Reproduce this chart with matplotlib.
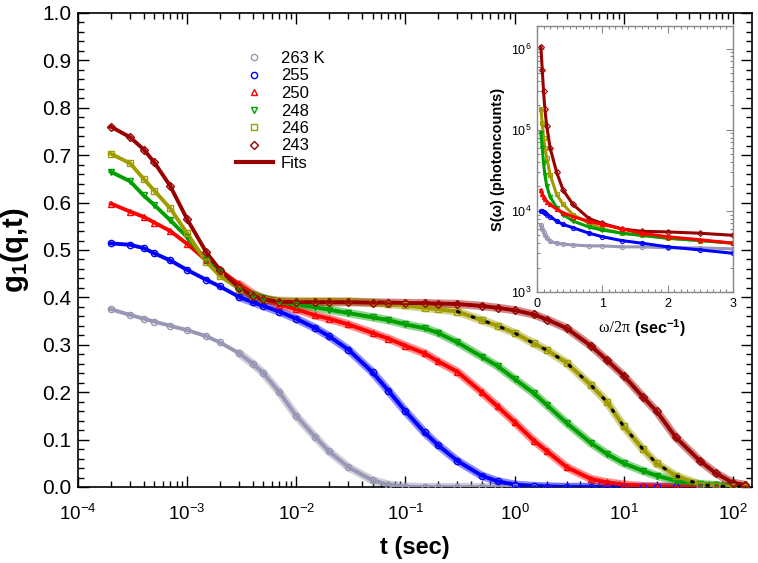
import numpy as np
import matplotlib
matplotlib.use('Agg')
import matplotlib.pyplot as plt
from matplotlib.ticker import (LogLocator, MultipleLocator, NullFormatter, FormatStrFormatter,
                               FixedLocator, LogFormatterSciNotation)
from matplotlib.lines import Line2D

plt.rcParams['font.family'] = ['Liberation Sans', 'DejaVu Sans']
plt.rcParams['mathtext.fontset'] = 'custom'
plt.rcParams['mathtext.rm'] = 'Liberation Sans'
plt.rcParams['mathtext.bf'] = 'Liberation Sans:bold'
plt.rcParams['mathtext.it'] = 'Liberation Sans:italic'

# ---------------- main panel data ----------------
t = [2e-4, 3e-4, 4e-4, 5e-4, 7e-4, 1e-3, 1.5e-3, 2e-3, 3e-3, 4e-3, 5e-3, 7e-3,
     1e-2, 1.5e-2, 2e-2, 3e-2, 5e-2, 7e-2, 0.1, 0.15, 0.2, 0.3, 0.5, 0.7,
     1, 1.5, 2, 3, 5, 7, 10, 15, 20, 30, 50, 70, 100, 130]

g_263 = [.375, .363, .355, .349, .340, .331, .318, .305, .282, .260, .240, .200,
         .150, .105, .075, .042, .014, .005, .001, 0, 0, 0, 0, 0,
         0, 0, 0, 0, 0, 0, 0, 0, 0, 0, 0, 0, 0, 0]
g_255 = [.514, .511, .504, .493, .478, .458, .437, .423, .401, .390, .382, .370,
         .355, .335, .318, .290, .242, .203, .160, .115, .088, .055, .024, .012,
         .005, .002, .001, 0, 0, 0, 0, 0, 0, 0, 0, 0, 0, 0]
g_250 = [.598, .581, .570, .558, .540, .513, .478, .458, .428, .408, .398, .385,
         .375, .362, .355, .343, .325, .313, .298, .282, .265, .243, .200, .170,
         .137, .098, .075, .042, .017, .010, .005, .002, .001, 0, 0, 0, 0, 0]
g_248 = [.665, .645, .615, .595, .563, .527, .478, .455, .420, .405, .398, .390,
         .385, .379, .374, .367, .358, .352, .343, .335, .325, .305, .275, .255,
         .228, .198, .172, .135, .093, .070, .050, .034, .024, .013, .006, .004, .001, 0]
g_246 = [.703, .683, .650, .625, .588, .535, .475, .445, .418, .404, .397, .393,
         .392, .392, .392, .392, .389, .386, .383, .378, .375, .370, .352, .340,
         .325, .303, .288, .262, .215, .180, .128, .080, .050, .024, .005, .002, 0, 0]
g_243 = [.760, .738, .712, .685, .635, .565, .495, .458, .420, .403, .396, .391,
         .390, .390, .390, .390, .389, .389, .388, .388, .387, .386, .382, .378,
         .373, .364, .353, .335, .298, .268, .235, .190, .160, .105, .055, .029, .009, .004]

series_g = [g_263, g_255, g_250, g_248, g_246, g_243]
labels = ['263 K', '255', '250', '248', '246', '243']
colors = ['#9898b4', '#0000ff', '#ff0000', '#00a000', '#a09c00', '#990000']
markers = ['o', 'o', '^', 'v', 's', 'D']
x_major = [1e-4, 1e-3, 1e-2, 1e-1, 1e0, 1e1, 1e2]

# ---------------- inset data ----------------
f_in = [0.06, 0.08, 0.1, 0.12, 0.15, 0.2, 0.3, 0.4, 0.55, 0.8, 1.0, 1.3, 1.6, 2.0, 2.5, 3.0]
S_263 = [6.7e3, 6.0e3, 5.5e3, 5.0e3, 4.6e3, 4.2e3, 4.0e3, 3.9e3, 3.8e3, 3.7e3, 3.7e3, 3.6e3, 3.6e3, 3.5e3, 3.5e3, 3.4e3]
S_255 = [1.0e4, 1.0e4, 9.8e3, 9.5e3, 9.0e3, 8.5e3, 7.5e3, 6.8e3, 6.2e3, 5.3e3, 4.8e3, 4.3e3, 4.0e3, 3.6e3, 3.3e3, 3.0e3]
S_250 = [1.8e4, 1.6e4, 1.5e4, 1.4e4, 1.3e4, 1.2e4, 1.05e4, 9.5e3, 8.5e3, 7.4e3, 6.8e3, 6.0e3, 5.3e3, 4.8e3, 4.4e3, 4.0e3]
S_248 = [9.0e4, 6.0e4, 3.9e4, 2.8e4, 2.0e4, 1.5e4, 1.1e4, 9.0e3, 7.5e3, 6.3e3, 5.8e3, 5.3e3, 5.0e3, 4.6e3, 4.3e3, 4.0e3]
S_246 = [1.8e5, 1.2e5, 8.0e4, 6.0e4, 4.5e4, 2.8e4, 1.6e4, 1.2e4, 9.0e3, 7.0e3, 6.0e3, 5.3e3, 5.0e3, 4.6e3, 4.3e3, 4.0e3]
S_243 = [1.05e6, 5.5e5, 3.0e5, 1.8e5, 1.1e5, 6.0e4, 3.0e4, 1.8e4, 1.2e4, 8.0e3, 7.0e3, 6.0e3, 5.6e3, 5.5e3, 5.3e3, 5.0e3]
series_S = [S_263, S_255, S_250, S_248, S_246, S_243]
y_in_major = [1e3, 1e4, 1e5, 1e6]

W, H = 758, 563
fig = plt.figure(figsize=(W / 100, H / 100), dpi=100)
ax = fig.add_axes([78 / W, (H - 487) / H, (752 - 78) / W, (487 - 13) / H])

t_arr = np.array(t)
dense = t_arr >= 3e-3
for g, c, m in zip(series_g, colors, markers):
    g = np.array(g)
    ax.plot(t_arr[dense], g[dense], color=c, lw=6, alpha=0.45, solid_capstyle='round', zorder=2)
    ax.plot(t_arr, g, color=c, lw=2.8, zorder=3)
    ax.plot(t_arr, g, ls='none', marker=m, ms=4.5, mfc='none', mec=c, mew=1, zorder=4)

# black dotted fit over the 246 K data
sel = t_arr >= 0.25
ax.plot(t_arr[sel], np.array(g_246)[sel], color='k', ls=(0, (0.6, 4.5)), lw=2.2,
        dash_capstyle='round', zorder=5)

ax.set_xscale('log')
ax.set_xlim(1e-4, 150)
ax.set_ylim(0, 1)
x_minor = [k * d for d in x_major for k in range(2, 10) if k * d <= 150]
ax.xaxis.set_major_locator(FixedLocator(x_major))
ax.xaxis.set_major_formatter(LogFormatterSciNotation())
ax.xaxis.set_minor_locator(FixedLocator(x_minor))
ax.xaxis.set_minor_formatter(NullFormatter())
ax.yaxis.set_major_locator(MultipleLocator(0.1))
ax.yaxis.set_minor_locator(MultipleLocator(0.02))
ax.yaxis.set_major_formatter(FormatStrFormatter('%.1f'))
ax.tick_params(which='both', direction='in', top=True, right=True, width=1)
ax.tick_params(which='major', length=8)
ax.tick_params(which='minor', length=4.5)
ax.tick_params(axis='x', labelsize=13.5, pad=12)
ax.tick_params(axis='y', labelsize=15, pad=5)
for s in ax.spines.values():
    s.set_linewidth(1.2)
ax.set_xlabel('t (sec)', fontsize=17, fontweight='bold', labelpad=9)
ax.set_ylabel(r'g$_\mathbf{1}$(q,t)', fontsize=21, fontweight='bold', labelpad=8)

handles = [Line2D([], [], ls='none', marker=m, ms=4.5, mfc='none', mec=c, mew=1)
           for c, m in zip(colors, markers)]
handles.append(Line2D([], [], color='#990000', lw=3))
leg = ax.legend(handles, labels + ['Fits'], loc='upper left',
                bbox_to_anchor=(236 / W, (H - 51) / H), bbox_transform=fig.transFigure,
                frameon=False, fontsize=12, handlelength=2.2, handletextpad=0.5,
                labelspacing=0.15, borderpad=0, borderaxespad=0, numpoints=1)

# ---------------- inset ----------------
axi = fig.add_axes([537 / W, (H - 292) / H, 196 / W, 266 / H])
axi.set_facecolor('white')
order = [0, 1, 5, 4, 3, 2]
for i in order:
    axi.plot(f_in, series_S[i], color=colors[i], lw=2.2, marker=markers[i], ms=3,
             mfc='none', mec=colors[i], mew=0.8)
axi.set_yscale('log')
axi.set_xlim(0, 3)
axi.set_ylim(1e3, 1.9e6)
y_in_minor = [k * d for d in y_in_major for k in range(2, 10) if k * d <= 1.9e6]
axi.xaxis.set_major_locator(MultipleLocator(1))
axi.xaxis.set_minor_locator(MultipleLocator(0.1))
axi.yaxis.set_major_locator(FixedLocator(y_in_major))
axi.yaxis.set_major_formatter(LogFormatterSciNotation())
axi.yaxis.set_minor_locator(FixedLocator(y_in_minor))
axi.yaxis.set_minor_formatter(NullFormatter())
axi.tick_params(which='both', direction='in', top=True, right=True, color='#888888', width=0.8)
axi.tick_params(which='major', length=5, labelsize=9, pad=4)
axi.tick_params(which='minor', length=2.5)
for s in axi.spines.values():
    s.set_color('#888888')
    s.set_linewidth(1)
axi.set_ylabel('S(ω) (photoncounts)', fontsize=10.5, fontweight='bold', labelpad=4)
axi.text(0.497, -0.135, 'ω/2π ', transform=axi.transAxes, ha='right', va='center',
         fontsize=11.5, family=['Liberation Serif', 'DejaVu Serif'])
axi.text(0.497, -0.135, r'(sec$^{\mathbf{-1}}$)', transform=axi.transAxes, ha='left',
         va='center', fontsize=11.5, fontweight='bold')

fig.savefig('out.png', dpi=100)
